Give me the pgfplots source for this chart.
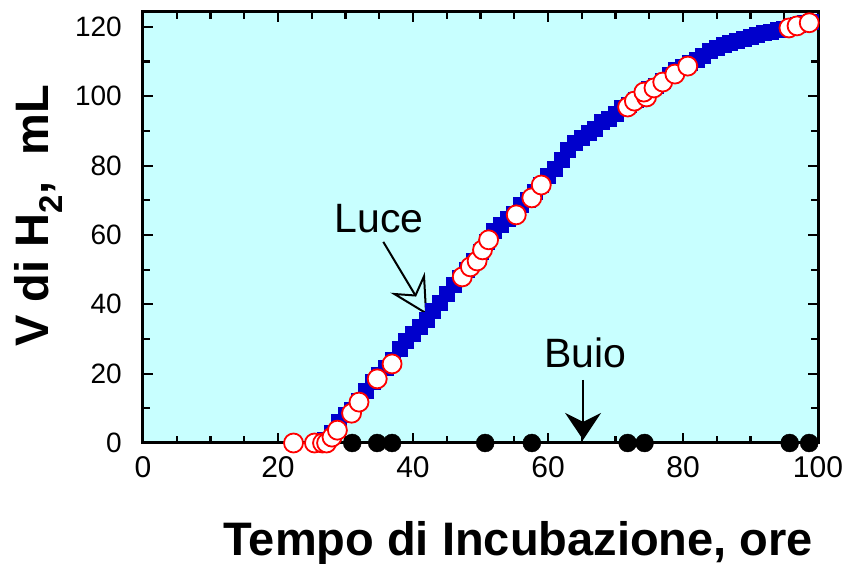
\documentclass[border=0pt]{standalone}
\usepackage{fontspec}
\setmainfont{Liberation Sans}
\usepackage{pgfplots}
\pgfplotsset{compat=1.18}
\usetikzlibrary{arrows.meta}
\definecolor{bgcyan}{RGB}{200,255,255}
\definecolor{dblue}{RGB}{0,0,204}
\definecolor{cred}{RGB}{255,0,0}
\begin{document}
\begin{tikzpicture}
\path[use as bounding box] (-143pt,-121pt) rectangle (702pt,443pt);
\begin{axis}[
  at={(0,0)}, anchor=south west,
  scale only axis, width=675pt, height=431pt,
  xmin=0, xmax=100, ymin=0, ymax=124.3,
  xtick={0,20,...,100}, ytick={0,20,...,120},
  minor x tick num=3, minor y tick num=1,
  tick pos=both, tick align=inside,
  major tick length=10pt, minor tick length=7pt,
  every tick/.style={black, line width=2.2pt},
  axis line style={line width=3pt},
  axis background/.style={fill=bgcyan},
  clip=false,
  /pgf/number format/assume math mode=true,
  xticklabel style={font=\fontsize{30}{34}\selectfont, inner sep=0pt, anchor=north, yshift=-13pt},
  yticklabel style={font=\fontsize{28}{32}\selectfont, inner sep=0pt, anchor=east, xshift=-21pt},
  xlabel={\bfseries Tempo di Incubazione, ore},
  ylabel={\bfseries V di H$_\mathbf{2}$,\ \ mL},
  label style={font=\fontsize{47}{52}\selectfont},
  xlabel style={at={(axis description cs:0.556,-0.2599)}, anchor=base},
  ylabel style={at={(axis description cs:-0.1407,0.527)}, anchor=base, rotate=0},
]
\addplot[color=dblue, line width=9pt, mark=square*, mark size=3.5pt, mark options={solid}, line join=miter] coordinates {
(26.5,0.5)(27,1)(28,3)(29,6)(30,8)(31,9.5)(32,12)(33,15)(34,17.5)(35,19.5)
(36,21.5)(37,24)(38,27)(39,29.5)(40,31.5)(41,33.5)(42,35.5)(43,38)(44,40.5)
(45,43)(46,45.5)(47,47.5)(48,50)(49,52.5)(50,55)(51,58)(52,61)(53,63)(54,64.5)
(55,66)(56,68.5)(57,70)(58,72.5)(59,74.5)(60,77)(61,79)(62,81.5)(63,84.5)
(64,86.5)(65,88)(66,89.5)(67,90.5)(68,92.5)(69,93.5)(70,95)(71,96.5)(72,97.5)
(73,99)(74,100.5)(75,102)(76,103)(77,104.5)(78,106)(79,107.5)(80,108.5)
(81,109.5)(82,110.5)(83,111.5)(84,113)(85,114)(86,114.8)(87,115.4)(88,116)
(89,116.5)(90,117)(91,117.6)(92,118.1)(93,118.5)(94,119)(95,119.4)(96,120)
(97,120.5)(98,121)(99,121.3)};
\addplot[only marks, mark=*, mark size=9.5pt, mark options={draw=cred, fill=white, line width=1.8pt}] coordinates {
(22.3,0)(25.4,0)(26.6,0)(27.2,0)(28.0,1.7)(28.8,3.7)(30.9,8.6)(32.0,11.8)
(34.7,18.5)(36.9,22.8)(47.3,47.9)(48.5,50.8)(49.5,52.5)(50.3,55.7)(51.2,58.6)
(55.3,65.8)(57.6,70.7)(59.0,74.4)(71.8,96.9)(72.8,98.6)(74.6,99.8)(74.2,101.2)
(75.7,102.4)(77.0,104.1)(78.8,106.4)(80.7,108.7)(95.7,119.7)(96.9,120.3)(98.7,121.2)};
\addplot[only marks, mark=*, mark size=9pt, mark options={draw=black, fill=black}] coordinates {
(31.0,0)(34.7,0)(36.9,0)(50.7,0)(57.6,0)(71.8,0)(74.3,0)(95.8,0)(98.7,0)};
\node[anchor=base, font=\fontsize{41}{45}\selectfont] at (axis cs:35.0,60.6) {Luce};
\draw[line width=2pt, -{Stealth[open, length=38pt, width=40pt, inset=14pt, line width=2pt]}] (axis cs:35.6,58.0) -- (axis cs:42.1,36.9);
\node[anchor=base, font=\fontsize{41}{45}\selectfont] at (axis cs:65.5,21.9) {Buio};
\draw[line width=2pt, -{Stealth[length=27pt, width=36pt, inset=9pt]}] (axis cs:65.2,18.2) -- (axis cs:65.2,0.9);
\end{axis}
\end{tikzpicture}
\end{document}
